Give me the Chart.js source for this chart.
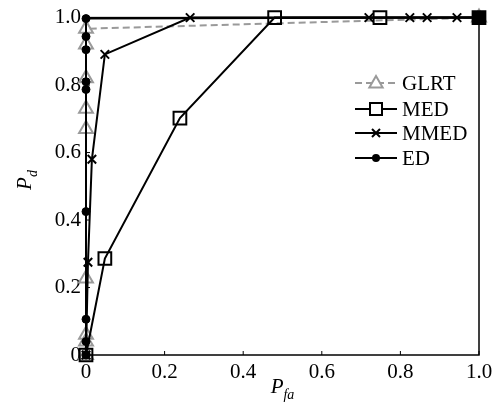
<!DOCTYPE html>
<html>
<head>
<meta charset="utf-8">
<script src="https://cdn.jsdelivr.net/npm/chart.js@4.4.1/dist/chart.umd.min.js"></script>
<style>
  html, body { margin: 0; padding: 0; background: #fff; }
  #wrap { width: 504px; height: 408px; }
</style>
</head>
<body>
<div id="wrap"><canvas id="roc" width="504" height="408"></canvas></div>
<script>
// ROC curves (Pfa vs Pd)
const glrtX = [0, 0, 0, 0, 0, 0, 0, 0, 0, 1];
const glrtY = [0, 0.04, 0.06, 0.227, 0.67, 0.73, 0.82, 0.92, 0.967, 1];

const medX = [0, 0.048, 0.239, 0.48, 0.748, 1];
const medY = [0, 0.286, 0.702, 1, 1, 1];

const mmedX = [0, 0.005, 0.015, 0.048, 0.265, 0.72, 0.824, 0.868, 0.944, 1];
const mmedY = [0, 0.275, 0.58, 0.891, 1, 1, 1, 1, 1, 1];

const edX = [0, 0, 0, 0, 0, 0, 0, 0, 0, 1];
const edY = [0, 0.04, 0.106, 0.425, 0.787, 0.81, 0.905, 0.944, 0.997, 1];

const tickVals = [0, 0.2, 0.4, 0.6, 0.8, 1.0];
const tickLabels = ["0", "0.2", "0.4", "0.6", "0.8", "1.0"];
const seriesNames = ["GLRT", "MED", "MMED", "ED"];

const serif = "'Liberation Serif', 'DejaVu Serif', serif";
const grey = "#9a9a9a";

function toPoints(xs, ys) {
  return xs.map((x, i) => ({ x: x, y: ys[i] }));
}

// ticks pointing inwards, frame, axis titles and legend
const decorPlugin = {
  id: "decor",
  afterDraw(chart) {
    const ctx = chart.ctx;
    const a = chart.chartArea;
    const xs = chart.scales.x;
    const ys = chart.scales.y;
    ctx.save();
    ctx.strokeStyle = "#000";
    ctx.lineWidth = 1.5;
    ctx.strokeRect(a.left, a.top, a.right - a.left, a.bottom - a.top);

    ctx.lineWidth = 1;
    tickVals.forEach(v => {
      const px = xs.getPixelForValue(v);
      ctx.beginPath();
      ctx.moveTo(px, a.bottom);
      ctx.lineTo(px, a.bottom - 4);
      ctx.stroke();
      const py = ys.getPixelForValue(v);
      ctx.beginPath();
      ctx.moveTo(a.left, py);
      ctx.lineTo(a.left + 4, py);
      ctx.stroke();
    });

    // axis titles
    ctx.fillStyle = "#000";
    ctx.textBaseline = "alphabetic";
    ctx.textAlign = "left";
    // P_fa
    ctx.font = "italic 21px " + serif;
    const wP = ctx.measureText("P").width;
    ctx.font = "italic 14px " + serif;
    const wFa = ctx.measureText("fa").width;
    let sx = (a.left + a.right) / 2 - (wP + wFa) / 2;
    ctx.font = "italic 21px " + serif;
    ctx.fillText("P", sx, 393);
    ctx.font = "italic 14px " + serif;
    ctx.fillText("fa", sx + wP, 399);

    // P_d rotated
    ctx.save();
    ctx.translate(31, 180);
    ctx.rotate(-Math.PI / 2);
    ctx.font = "italic 14px " + serif;
    const wD = ctx.measureText("d").width;
    ctx.font = "italic 21px " + serif;
    const x0 = -(wP + wD) / 2;
    ctx.fillText("P", x0, 0);
    ctx.font = "italic 14px " + serif;
    ctx.fillText("d", x0 + wP, 6);
    ctx.restore();

    // legend with line + marker
    const rows = [83, 109, 133, 158];
    const cx = 376;
    chart.data.datasets.forEach((ds, i) => {
      const y = rows[i];
      const r = ds.legendRadius;
      ctx.save();
      ctx.strokeStyle = ds.borderColor;
      ctx.lineWidth = ds.borderWidth;
      ctx.setLineDash(ds.borderDash || []);
      ctx.beginPath();
      ctx.moveTo(355, y);
      ctx.lineTo(397, y);
      ctx.stroke();
      ctx.setLineDash([]);
      ctx.fillStyle = ds.pointBorderColor;
      ctx.strokeStyle = ds.pointBorderColor;
      ctx.lineWidth = ds.pointBorderWidth;
      ctx.beginPath();
      if (ds.pointStyle === "triangle") {
        ctx.fillStyle = "#fff";
        ctx.moveTo(cx, y - r);
        ctx.lineTo(cx + r * 0.95, y + r * 0.65);
        ctx.lineTo(cx - r * 0.95, y + r * 0.65);
        ctx.closePath();
        ctx.fill();
        ctx.stroke();
      } else if (ds.pointStyle === "rect") {
        ctx.fillStyle = "#fff";
        ctx.rect(cx - r, y - r, 2 * r, 2 * r);
        ctx.fill();
        ctx.stroke();
      } else if (ds.pointStyle === "crossRot") {
        ctx.moveTo(cx - r, y - r); ctx.lineTo(cx + r, y + r);
        ctx.moveTo(cx - r, y + r); ctx.lineTo(cx + r, y - r);
        ctx.stroke();
      } else {
        ctx.arc(cx, y, r, 0, Math.PI * 2);
        ctx.fill();
      }
      ctx.fillStyle = "#000";
      ctx.font = "21px " + serif;
      ctx.textBaseline = "middle";
      ctx.fillText(ds.label, 402, y + 1);
      ctx.restore();
    });
    ctx.restore();
  }
};

const ctx = document.getElementById("roc").getContext("2d");
const rocChart = new Chart(ctx, {
  type: "scatter",
  data: {
    datasets: [
      {
        label: seriesNames[0],
        data: toPoints(glrtX, glrtY),
        showLine: true,
        borderColor: grey,
        borderWidth: 2,
        borderDash: [7, 4],
        pointStyle: "triangle",
        pointRadius: 8,
        pointBorderWidth: 2,
        pointBorderColor: grey,
        pointBackgroundColor: "rgba(0,0,0,0)",
        legendRadius: 7,
        clip: false,
        order: 4
      },
      {
        label: seriesNames[1],
        data: toPoints(medX, medY),
        showLine: true,
        borderColor: "#000",
        borderWidth: 2,
        pointStyle: "rect",
        pointRadius: 9,
        pointBorderWidth: 2,
        pointBorderColor: "#000",
        pointBackgroundColor: ["rgba(0,0,0,0)", "rgba(0,0,0,0)", "rgba(0,0,0,0)", "rgba(0,0,0,0)", "rgba(0,0,0,0)", "#000"],
        legendRadius: 6,
        clip: false,
        order: 3
      },
      {
        label: seriesNames[2],
        data: toPoints(mmedX, mmedY),
        showLine: true,
        borderColor: "#000",
        borderWidth: 2,
        pointStyle: "crossRot",
        pointRadius: 6,
        pointBorderWidth: 2,
        pointBorderColor: "#000",
        legendRadius: 4,
        clip: false,
        order: 2
      },
      {
        label: seriesNames[3],
        data: toPoints(edX, edY),
        showLine: true,
        borderColor: "#000",
        borderWidth: 2,
        pointStyle: "circle",
        pointRadius: 4,
        pointBorderWidth: 1,
        pointBorderColor: "#000",
        pointBackgroundColor: "#000",
        legendRadius: 4,
        clip: false,
        order: 1
      }
    ]
  },
  options: {
    responsive: false,
    animation: false,
    layout: { padding: { left: 0, right: 25, top: 16, bottom: 0 } },
    plugins: {
      legend: { display: false },
      tooltip: { enabled: false }
    },
    scales: {
      x: {
        type: "linear",
        min: 0,
        max: 1,
        afterBuildTicks: s => { s.ticks = tickVals.map(v => ({ value: v })); },
        afterFit: s => { s.height = 53; },
        grid: { display: false, drawTicks: false },
        border: { display: false },
        ticks: {
          color: "#000",
          padding: 5,
          maxRotation: 0,
          font: { family: serif, size: 21 },
          callback: v => tickLabels[tickVals.indexOf(v)]
        }
      },
      y: {
        type: "linear",
        min: 0,
        max: 1,
        afterBuildTicks: s => { s.ticks = tickVals.map(v => ({ value: v })); },
        afterFit: s => { s.width = 86; },
        grid: { display: false, drawTicks: false },
        border: { display: false },
        ticks: {
          color: "#000",
          padding: 5,
          font: { family: serif, size: 21 },
          callback: v => tickLabels[tickVals.indexOf(v)]
        }
      }
    }
  },
  plugins: [decorPlugin]
});
</script>
</body>
</html>
